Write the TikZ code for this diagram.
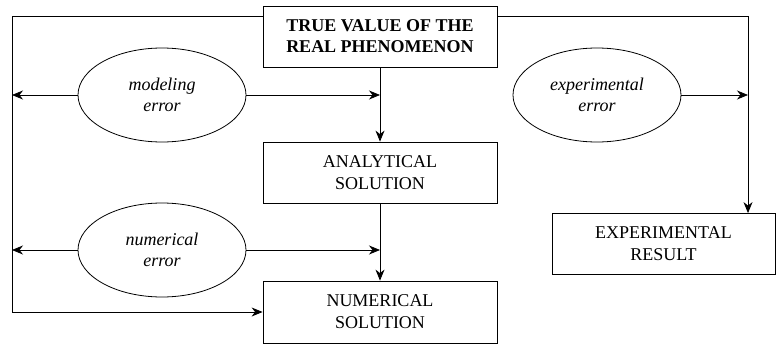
\documentclass[tikz,border=0pt]{standalone}
\usepackage{fontspec}
\setmainfont{Liberation Serif}
\usetikzlibrary{arrows.meta,shapes.geometric}
\begin{document}
\begin{tikzpicture}[x=1pt,y=-1pt, line width=0.8pt,
 box/.style={draw, rectangle, minimum width=234pt, minimum height=61pt, align=center, font=\fontsize{18}{22}\selectfont, inner sep=0pt},
 err/.style={draw, ellipse, minimum width=168pt, minimum height=94pt, inner sep=0pt, align=center, font=\fontsize{18}{21}\selectfont\itshape},
 arr/.style={-{Stealth[length=11pt,width=9pt,inset=3.5pt]}}]
\useasboundingbox (0,0) rectangle (776,345);
\node[box, font=\fontsize{18}{21}\selectfont\bfseries] (true) at (380,36.5) {TRUE VALUE OF THE\\REAL PHENOMENON};
\node[box] (ana) at (380,172.5) {ANALYTICAL\\SOLUTION};
\node[box, minimum height=62pt] (num) at (380,312) {NUMERICAL\\SOLUTION};
\node[box, minimum width=223pt] (exp) at (663.5,244) {EXPERIMENTAL\\RESULT};
\node[err] (me) at (162,95) {modeling\\error};
\node[err] (ne) at (162,250) {numerical\\error};
\node[err] (ee) at (597,95) {experimental\\error};
\coordinate (tl) at (12,16);
\coordinate (bl) at (12,312);
\coordinate (tr) at (748,16);
\draw[arr] (true) -- (ana);
\draw[arr] (ana) -- (num);
\draw[arr] (me.west) -- (me.west -| tl);
\draw[arr] (me.east) -- (me.east -| true.south);
\draw[arr] (ne.west) -- (ne.west -| tl);
\draw[arr] (ne.east) -- (ne.east -| true.south);
\draw[arr] (ee.east) -- (ee.east -| tr);
\draw[arr] (true.west |- tl) -- (tl) -- (bl) -- (num.west);
\draw[arr] (true.east |- tr) -- (tr) -- (tr |- exp.north);
\end{tikzpicture}
\end{document}
